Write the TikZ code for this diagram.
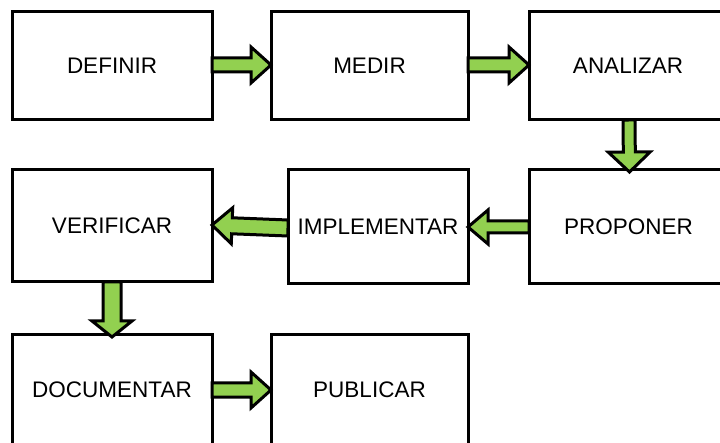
\documentclass[tikz,border=0pt]{standalone}
\usepackage{fontspec}
\setmainfont{Liberation Sans}
\usetikzlibrary{calc}
\definecolor{arrowgreen}{RGB}{146,208,80}
\tikzset{
  stepbox/.style={draw=black, line width=3pt, fill=white, inner sep=0pt, outer sep=0pt,
    font=\fontsize{22.5}{25}\selectfont},
  barrow/.style={draw=black, fill=arrowgreen, line width=3pt, line join=miter}
}
% #1 start, #2 tip, #3 shaft half width, #4 head half width, #5 head length
\newcommand\blockarrow[5]{%
  \coordinate (ba-a) at (#1);
  \coordinate (ba-b) at (#2);
  \coordinate (ba-h) at ($(ba-b)!#5!(ba-a)$);
  \draw[barrow] ($(ba-a)!#3!90:(ba-b)$) -- ($(ba-h)!#3!-90:(ba-a)$) -- ($(ba-h)!#4!-90:(ba-a)$)
    -- (ba-b) -- ($(ba-h)!#4!90:(ba-a)$) -- ($(ba-h)!#3!90:(ba-a)$) -- ($(ba-a)!#3!-90:(ba-b)$) -- cycle;
}
\begin{document}
\begin{tikzpicture}[x=1pt,y=1pt]
\useasboundingbox (0,0) rectangle (720,-443);
\clip (0,0) rectangle (720,-443);
\fill[white] (0,0) rectangle (720,-443);
\node[stepbox, minimum width=200pt, minimum height=108pt] (definir) at (112,-66) {DEFINIR};
\node[stepbox, minimum width=197pt, minimum height=108pt] (medir) at (369.5,-66) {MEDIR};
\node[stepbox, minimum width=198pt, minimum height=108pt] (analizar) at (628,-66) {ANALIZAR};
\node[stepbox, minimum width=200pt, minimum height=112pt] (verificar) at (112,-226) {VERIFICAR};
\node[stepbox, minimum width=180pt, minimum height=114pt] (implementar) at (378,-227) {IMPLEMENTAR};
\node[stepbox, minimum width=199pt, minimum height=114pt] (proponer) at (628.5,-227) {PROPONER};
\node[stepbox, minimum width=200pt, minimum height=110pt] (documentar) at (112,-390) {DOCUMENTAR};
\node[stepbox, minimum width=197pt, minimum height=110pt] (publicar) at (369.5,-390) {PUBLICAR};

\blockarrow{$(definir.east)+(0,1)$}{$(medir.west)+(0,1)$}{7pt}{18pt}{20pt}
\blockarrow{$(medir.east)+(0,1)$}{$(analizar.west)+(0,1)$}{7pt}{18pt}{20pt}
\blockarrow{$(analizar.south)+(1,0)$}{$(proponer.north)+(1,-2)$}{6pt}{21pt}{20pt}
\blockarrow{proponer.west}{implementar.east}{6pt}{17pt}{20pt}
\blockarrow{$(implementar.west)+(0,-1)$}{$(verificar.east)+(0,1)$}{8pt}{18pt}{20pt}
\blockarrow{verificar.south}{$(documentar.north)+(0,-2)$}{9pt}{20pt}{16pt}
\blockarrow{documentar.east}{publicar.west}{7pt}{18pt}{20pt}
\end{tikzpicture}
\end{document}
